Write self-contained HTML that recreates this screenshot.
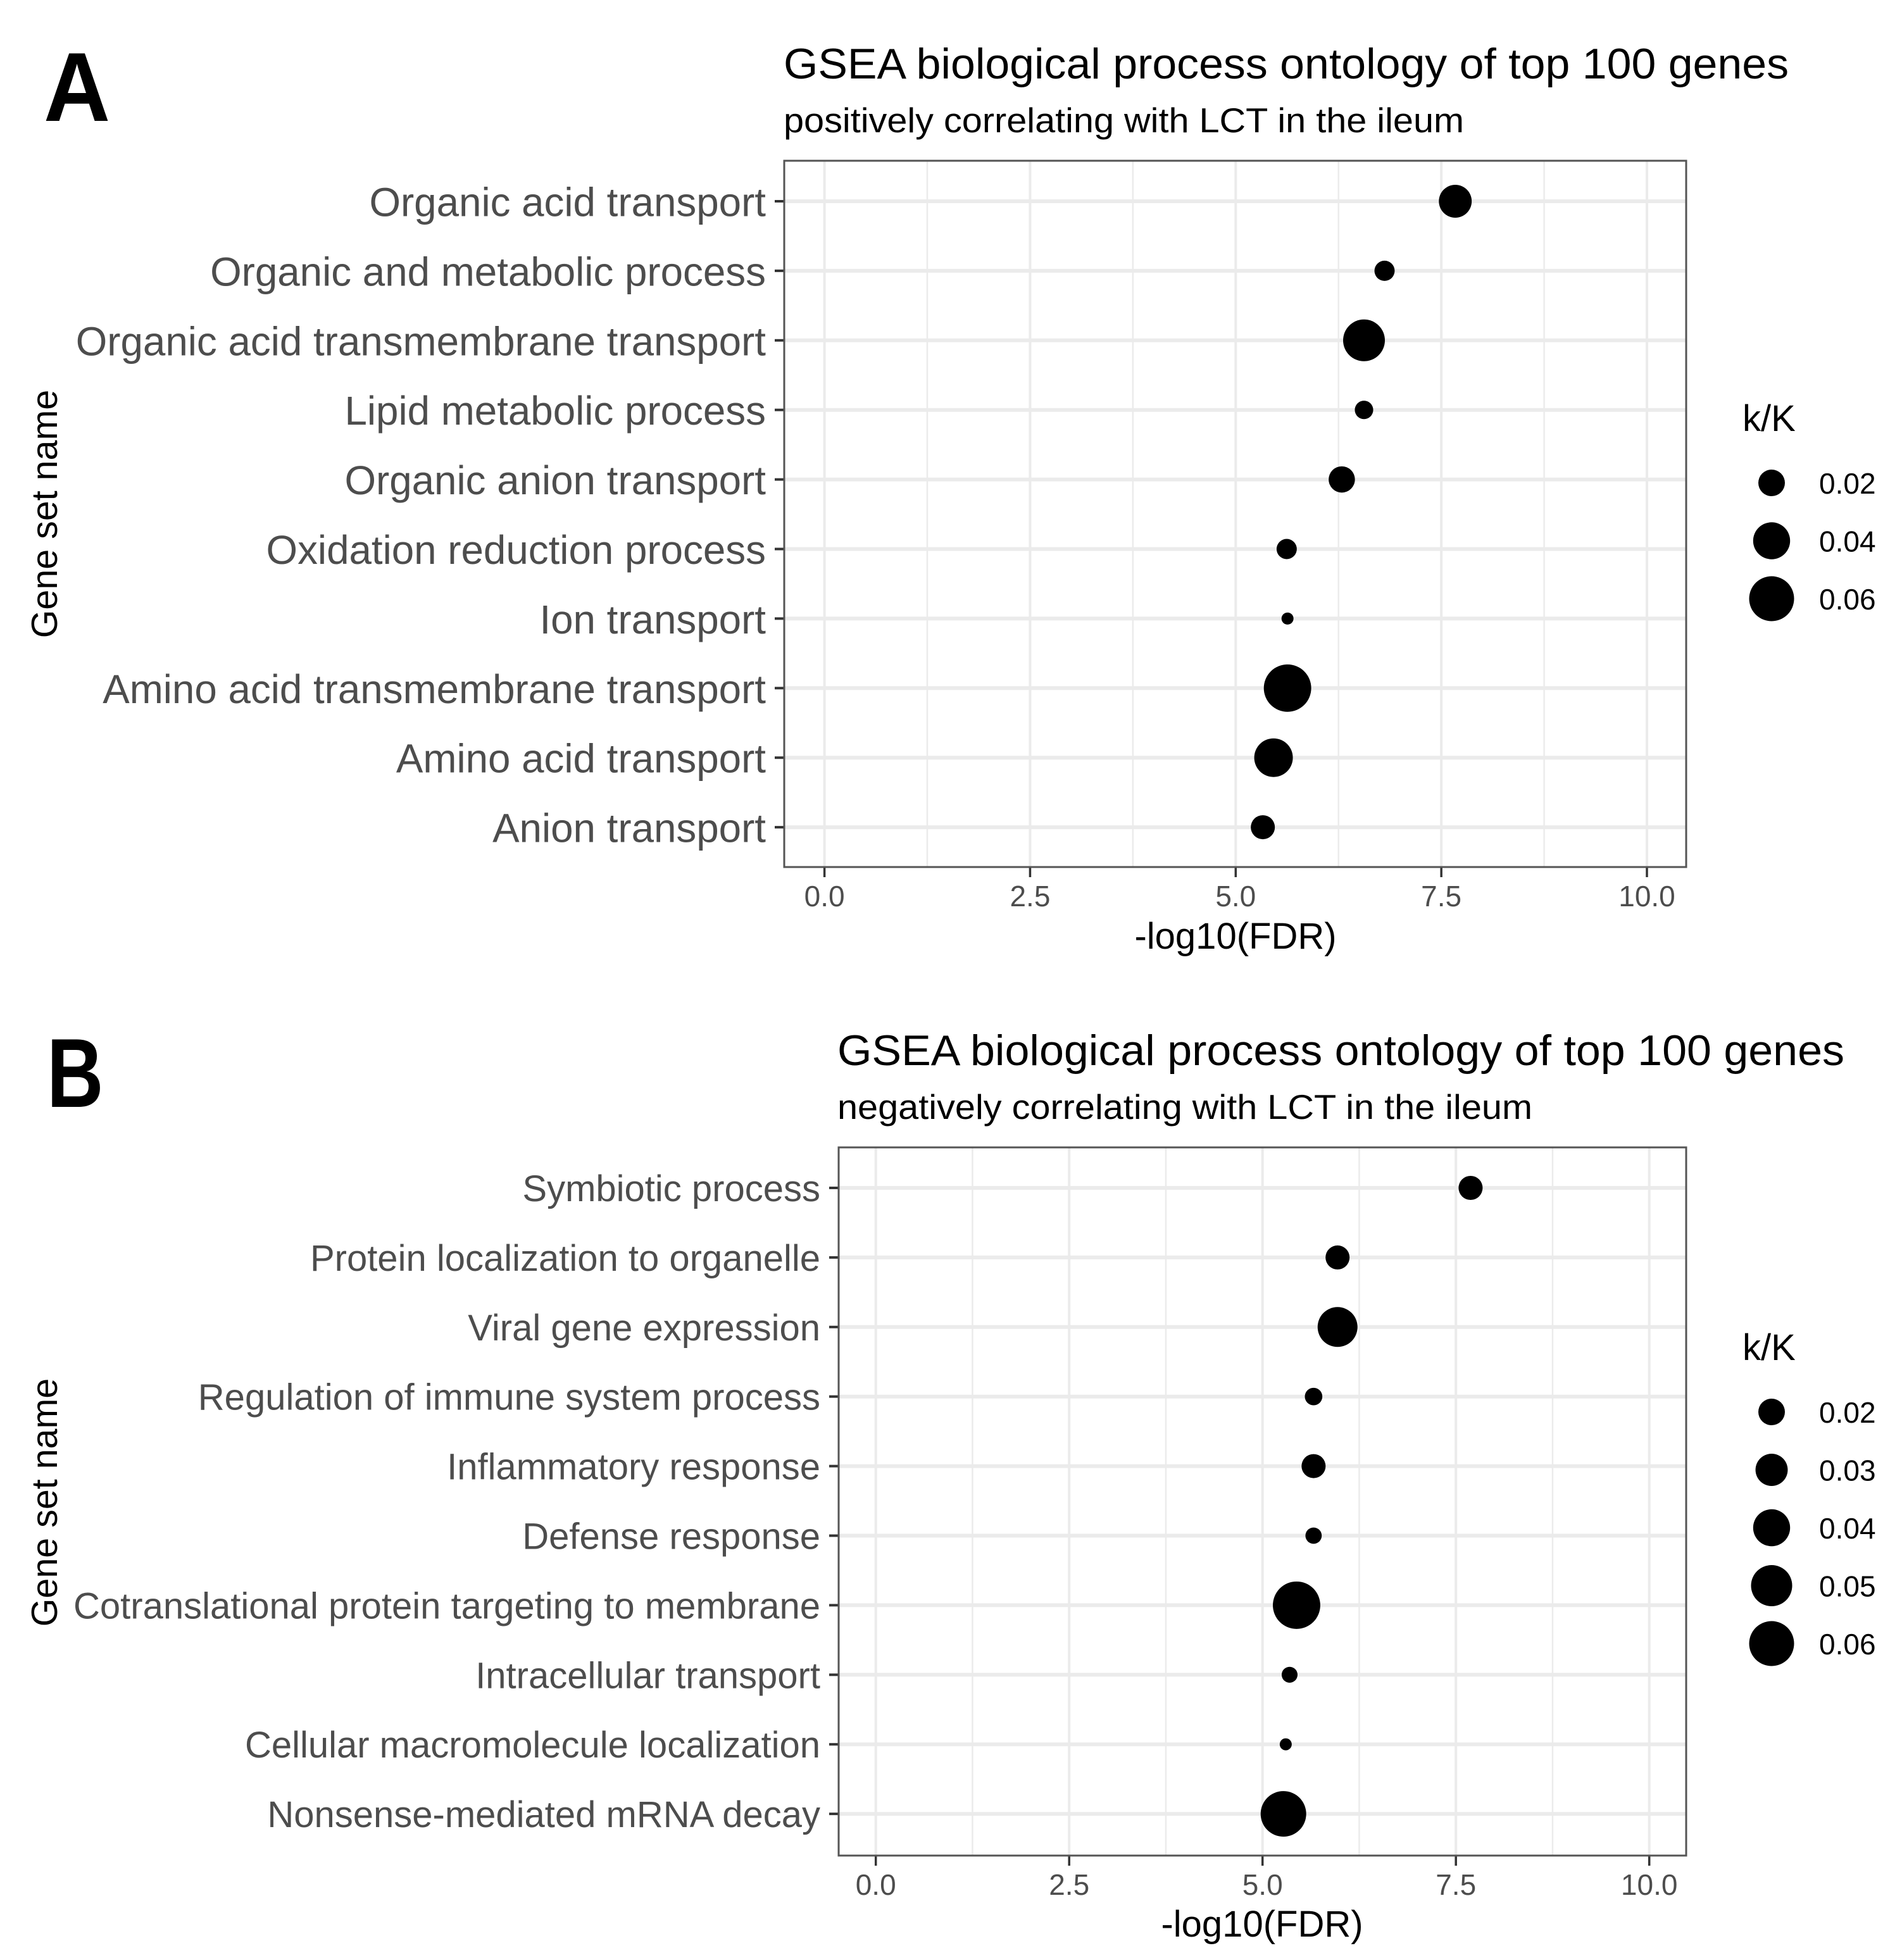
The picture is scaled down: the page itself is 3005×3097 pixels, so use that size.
<!DOCTYPE html>
<html lang="en">
<head>
<meta charset="utf-8">
<title>GSEA biological process ontology</title>
<style>
html,body{margin:0;padding:0;background:#fff;width:3005px;height:3097px;overflow:hidden}
svg{display:block;font-family:"Liberation Sans",sans-serif}
</style>
</head>
<body>
<svg id="figure" xmlns="http://www.w3.org/2000/svg" width="3005" height="3097" viewBox="0 0 3005 3097">
  <rect width="3005" height="3097" fill="#fff"/>
  <text transform="translate(69 191) scale(0.94 1)" font-size="155" font-weight="700" fill="#000">A</text>
  <text transform="translate(74 1749) scale(0.8 1)" font-size="155" font-weight="700" fill="#000">B</text>
  <text x="1238" y="124" font-size="68" textLength="1588" lengthAdjust="spacingAndGlyphs" fill="#000">GSEA biological process ontology of top 100 genes</text>
  <text x="1238" y="209" font-size="55" textLength="1075" lengthAdjust="spacingAndGlyphs" fill="#000">positively correlating with LCT in the ileum</text>
  <text x="1323" y="1683" font-size="68" textLength="1591" lengthAdjust="spacingAndGlyphs" fill="#000">GSEA biological process ontology of top 100 genes</text>
  <text x="1323" y="1768" font-size="55" textLength="1098" lengthAdjust="spacingAndGlyphs" fill="#000">negatively correlating with LCT in the ileum</text>
  <text transform="translate(90 812) rotate(-90)" text-anchor="middle" font-size="57.4" fill="#000">Gene set name</text>
  <text transform="translate(90 2374) rotate(-90)" text-anchor="middle" font-size="57.4" fill="#000">Gene set name</text>
  <text x="1952" y="1499" text-anchor="middle" font-size="58" fill="#000">-log10(FDR)</text>
  <text x="1994" y="3060" text-anchor="middle" font-size="58" fill="#000">-log10(FDR)</text>
  <text x="2753" y="681" font-size="58" fill="#000">k/K</text>
  <text x="2753" y="2149" font-size="58" fill="#000">k/K</text>
  <g id="panel-a"></g>
  <g id="panel-b"></g>
</svg>
<script>
const xTickValues = [0, 2.5, 5, 7.5, 10];
const xTickLabels = ["0.0", "2.5", "5.0", "7.5", "10.0"];
const xMinorValues = [1.25, 3.75, 6.25, 8.75];

const categoriesA = ["Organic acid transport", "Organic and metabolic process", "Organic acid transmembrane transport", "Lipid metabolic process", "Organic anion transport", "Oxidation reduction process", "Ion transport", "Amino acid transmembrane transport", "Amino acid transport", "Anion transport"];
const fdrA = [7.67, 6.81, 6.56, 6.56, 6.29, 5.62, 5.63, 5.63, 5.46, 5.33];
const ratioA = [0.03, 0.0104, 0.05, 0.0084, 0.0185, 0.0104, 0.0031, 0.0652, 0.0423, 0.0153];
const legendValuesA = [0.02, 0.04, 0.06];
const legendLabelsA = ["0.02", "0.04", "0.06"];

const categoriesB = ["Symbiotic process", "Protein localization to organelle", "Viral gene expression", "Regulation of immune system process", "Inflammatory response", "Defense response", "Cotranslational protein targeting to membrane", "Intracellular transport", "Cellular macromolecule localization", "Nonsense-mediated mRNA decay"];
const fdrB = [7.69, 5.97, 5.97, 5.66, 5.66, 5.66, 5.44, 5.35, 5.3, 5.27];
const ratioB = [0.0153, 0.0153, 0.0453, 0.0075, 0.0153, 0.0064, 0.0652, 0.006, 0.0031, 0.06];
const legendValuesB = [0.02, 0.03, 0.04, 0.05, 0.06];
const legendLabelsB = ["0.02", "0.03", "0.04", "0.05", "0.06"];

const SVG_NS = "http://www.w3.org/2000/svg";

function make(parent, tag, attrs, text) {
  const el = document.createElementNS(SVG_NS, tag);
  for (const key in attrs) el.setAttribute(key, attrs[key]);
  if (text !== undefined) el.textContent = text;
  parent.appendChild(el);
  return el;
}

function diameter(ratio) {
  return 3.4 + 280 * Math.sqrt(ratio);
}

function drawPanel(parent, frame, categories, fdr, ratio, legendValues, legendLabels) {
  const xScale = v => frame.x0 + v * frame.xUnit;
  const yScale = i => frame.firstRow + i * 109.9;

  const plotBg = make(parent, "rect", {x: frame.left, y: frame.top, width: frame.right - frame.left, height: frame.bottom - frame.top, fill: "#fff"});
  
  

  xMinorValues.forEach(v => {
    const line = make(parent, "line", {x1: xScale(v), x2: xScale(v), y1: frame.top, y2: frame.bottom, stroke: "#EBEBEB", "stroke-width": 2.5});
    
    
  });
  xTickValues.forEach(v => {
    const line = make(parent, "line", {x1: xScale(v), x2: xScale(v), y1: frame.top, y2: frame.bottom, stroke: "#EBEBEB", "stroke-width": 4});
    
    
  });
  categories.forEach((c, i) => {
    const line = make(parent, "line", {x1: frame.left, x2: frame.right, y1: yScale(i), y2: yScale(i), stroke: "#EBEBEB", "stroke-width": 6});
    
    
  });

  categories.forEach((c, i) => {
    const tick = make(parent, "line", {x1: frame.left - 15, x2: frame.left, y1: yScale(i), y2: yScale(i), stroke: "#333", "stroke-width": 4});
    
    
    const label = make(parent, "text", {x: frame.left - 29, y: yScale(i) + frame.labelDrop, "text-anchor": "end", "font-size": frame.labelSize, fill: "#4D4D4D"}, c);
    
    
  });

  xTickValues.forEach((v, i) => {
    const tick = make(parent, "line", {x1: xScale(v), x2: xScale(v), y1: frame.bottom, y2: frame.bottom + 16, stroke: "#333", "stroke-width": 3.5});
    
    
    const label = make(parent, "text", {x: xScale(v), y: frame.bottom + 62, "text-anchor": "middle", "font-size": 46, fill: "#4D4D4D"}, xTickLabels[i]);
    
    
  });

  fdr.forEach((v, i) => {
    const dot = make(parent, "circle", {cx: xScale(v), cy: yScale(i), r: diameter(ratio[i]) / 2, fill: "#000"});
    
    
  });

  const border = make(parent, "rect", {x: frame.left, y: frame.top, width: frame.right - frame.left, height: frame.bottom - frame.top, fill: "none", stroke: "#555", "stroke-width": 3});
  
  

  legendValues.forEach((v, i) => {
    const cy = frame.legendTop + i * 91.5;
    const key = make(parent, "circle", {cx: 2799, cy: cy, r: diameter(v) / 2 - 0.5, fill: "#000"});
    
    
    const label = make(parent, "text", {x: 2874, y: cy + 17, "font-size": 46, fill: "#000"}, legendLabels[i]);
    
    
  });
}

drawPanel(document.getElementById("panel-a"),
  {left: 1239, right: 2664, top: 254, bottom: 1370, x0: 1302.6, xUnit: 129.94, firstRow: 318, legendTop: 763, labelSize: 63.7, labelDrop: 23.5},
  categoriesA, fdrA, ratioA, legendValuesA, legendLabelsA);

drawPanel(document.getElementById("panel-b"),
  {left: 1325, right: 2664, top: 1813, bottom: 2932, x0: 1383.7, xUnit: 122.2, firstRow: 1877, legendTop: 2231, labelSize: 58, labelDrop: 21},
  categoriesB, fdrB, ratioB, legendValuesB, legendLabelsB);
</script>
</body>
</html>
